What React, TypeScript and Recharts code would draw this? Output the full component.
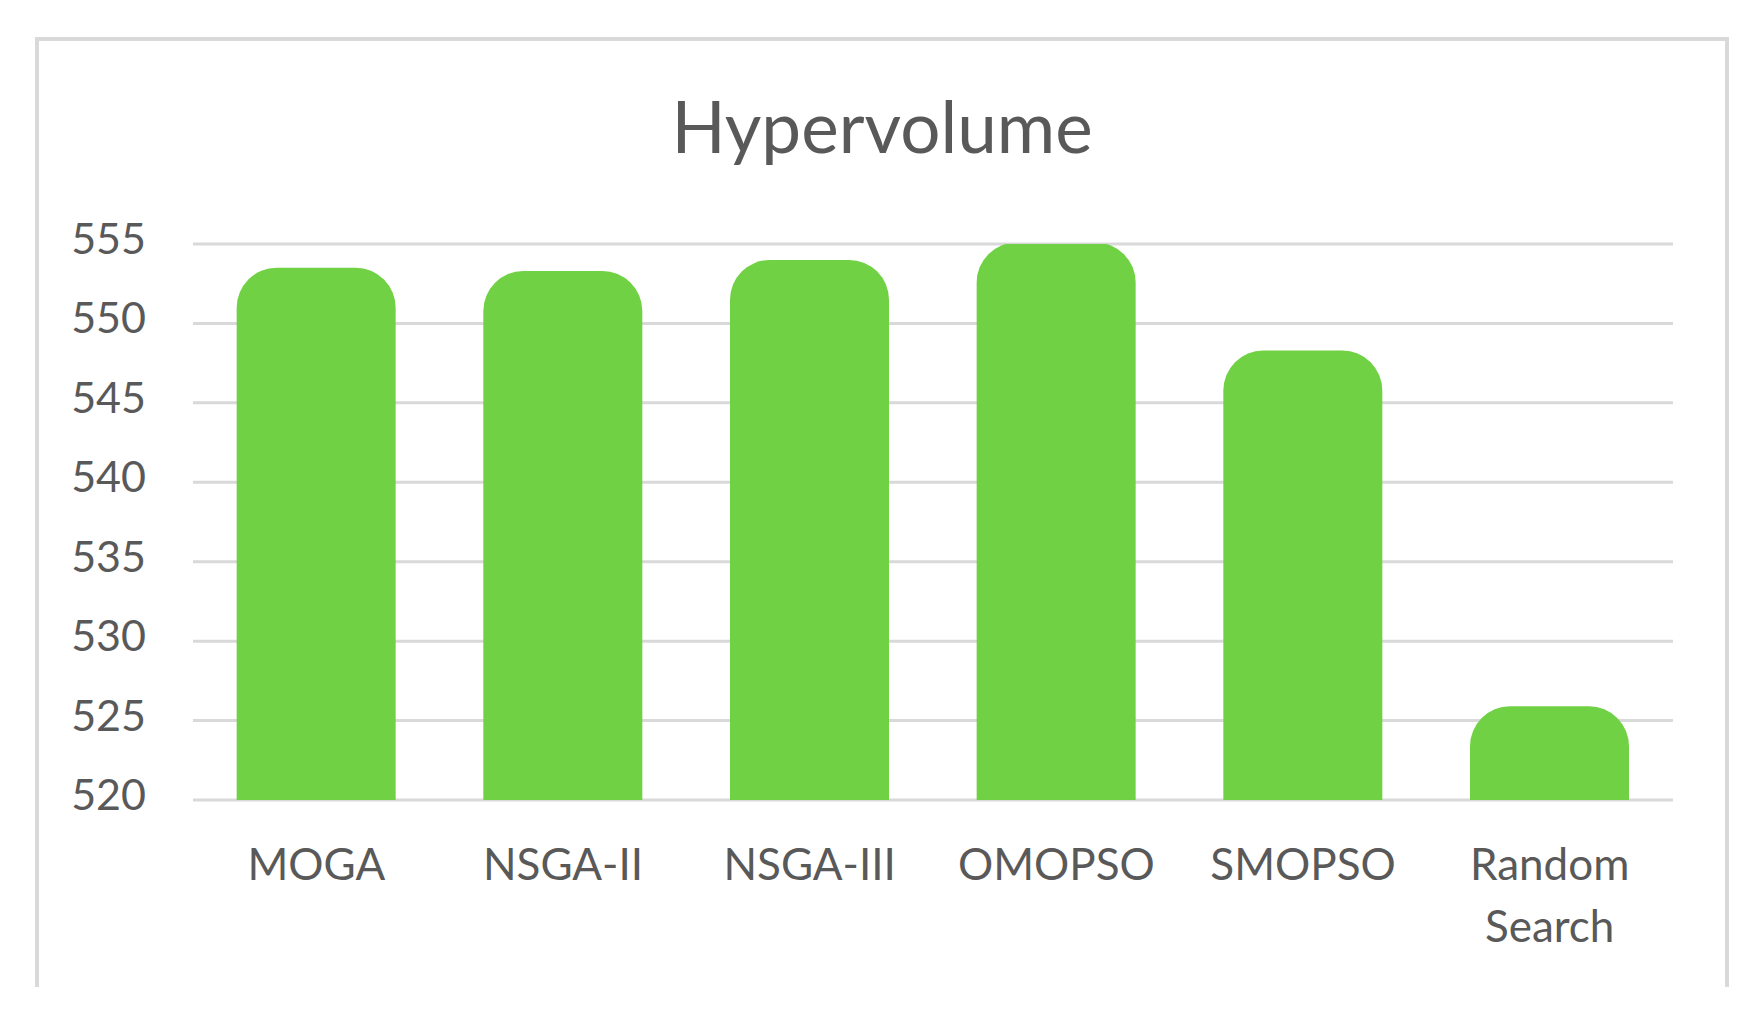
import { BarChart, Bar, XAxis, YAxis, CartesianGrid } from 'recharts';

const algorithms = ['MOGA', 'NSGA-II', 'NSGA-III', 'OMOPSO', 'SMOPSO', 'Random Search'];
const hypervolume = [553.5, 553.3, 554.0, 555.1, 548.3, 525.9];
const yTicks = [520, 525, 530, 535, 540, 545, 550, 555];

const data = algorithms.map((name, i) => ({ name, value: hypervolume[i] }));

const TEXT = '#595959';
const GRID = '#d9d9d9';
const BAR = '#6fd143';
const FONT = 'Lato, "Open Sans", sans-serif';

function XTick(props: any) {
  const { x, y, payload } = props;
  const lines: string[] = String(payload.value).split(' ');
  return (
    <text x={x} y={y + 80} textAnchor="middle" fill={TEXT} fontSize={44} fontFamily={FONT}>
      {lines.map((line, i) => (
        <tspan key={i} x={x} dy={i === 0 ? 0 : 62}>
          {line}
        </tspan>
      ))}
    </text>
  );
}

function YTick(props: any) {
  const { x, y, payload } = props;
  return (
    <text x={x} y={y + 10} textAnchor="end" fill={TEXT} fontSize={43} fontFamily={FONT}>
      {payload.value}
    </text>
  );
}

export default function App() {
  return (
    <div
      style={{
        position: 'absolute',
        left: 35,
        top: 37,
        width: 1686,
        height: 946,
        border: `4px solid ${GRID}`,
        borderBottom: 'none',
        background: '#fff',
      }}
    >
      <BarChart width={1686} height={946} data={data} margin={{ top: 203, right: 52, left: 0, bottom: 0 }} barCategoryGap="17.7%">
        <CartesianGrid vertical={false} stroke={GRID} strokeWidth={3} />
        <XAxis dataKey="name" height={187} tickLine={false} axisLine={false} tickSize={0} tickMargin={0} interval={0} tick={<XTick />} />
        <YAxis
          width={154}
          domain={[520, 555]}
          ticks={yTicks}
          allowDataOverflow
          tickLine={false}
          axisLine={false}
          tickSize={0}
          tickMargin={47}
          tick={<YTick />}
        />
        <Bar dataKey="value" fill={BAR} radius={[40, 40, 0, 0]} isAnimationActive={false} />
      </BarChart>
      <svg width={1686} height={160} style={{ position: 'absolute', left: 0, top: 0 }}>
        <text x={843} y={112} textAnchor="middle" fontSize={71} fill={TEXT} fontFamily={FONT}>
          Hypervolume
        </text>
      </svg>
    </div>
  );
}
